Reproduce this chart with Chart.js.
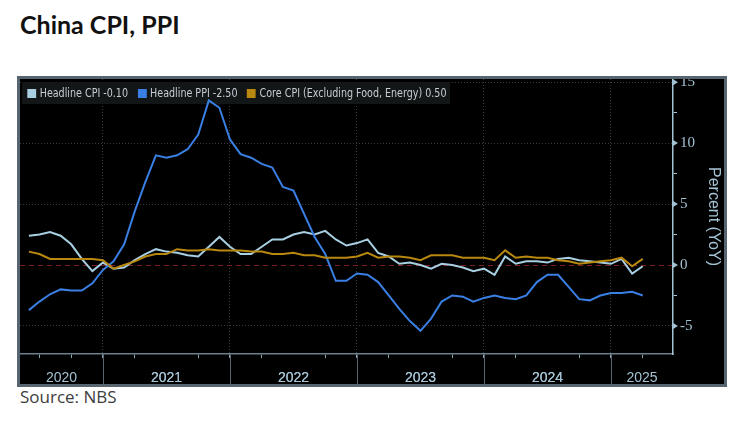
<!DOCTYPE html>
<html>
<head>
<meta charset="utf-8">
<script src="https://cdn.jsdelivr.net/npm/chart.js@4.4.1/dist/chart.umd.min.js"></script>
<style>
  html, body { margin: 0; padding: 0; background: #fff; }
  body { width: 756px; height: 427px; position: relative; overflow: hidden; }
  #titulo { position: absolute; left: 20px; top: 12px; font: 700 25px/25px Lato, sans-serif; color: #111; }
  #caixa { position: absolute; left: 17px; top: 76px; width: 710px; height: 311px; box-sizing: border-box; border: 3px solid #56656f; background: #000; }
  #caixa canvas { position: absolute; left: 0; top: 0; }
  #legenda { position: absolute; left: 2px; top: 3px; height: 22px; padding-left: 6px; display: flex; align-items: center;
             font: 12px "Liberation Sans Narrow", "DejaVu Sans Condensed", sans-serif; color: #c5cdd3; white-space: nowrap;
             transform: scaleX(0.885); transform-origin: 0 0; }
  #legenda .item { display: flex; align-items: center; margin-right: 11px; }
  #legenda .cor { width: 10px; height: 9px; margin-right: 4px; }
  #fonte { position: absolute; left: 20px; top: 388px; font: 17px/17px "Open Sans", sans-serif; color: #3d3d3d; }
</style>
</head>
<body>
<div id="titulo">China CPI, PPI</div>
<div id="caixa">
  <canvas id="grafico" width="704" height="305"></canvas>
  <div id="legenda"></div>
</div>
<div id="fonte">Source: NBS</div>
<script>
// Meses (dado mensal, desenhado no fim do mês)
const meses = [
  '2020-05', '2020-06', '2020-07', '2020-08', '2020-09', '2020-10', '2020-11', '2020-12',
  '2021-01', '2021-02', '2021-03', '2021-04', '2021-05', '2021-06', '2021-07', '2021-08', '2021-09', '2021-10', '2021-11', '2021-12',
  '2022-01', '2022-02', '2022-03', '2022-04', '2022-05', '2022-06', '2022-07', '2022-08', '2022-09', '2022-10', '2022-11', '2022-12',
  '2023-01', '2023-02', '2023-03', '2023-04', '2023-05', '2023-06', '2023-07', '2023-08', '2023-09', '2023-10', '2023-11', '2023-12',
  '2024-01', '2024-02', '2024-03', '2024-04', '2024-05', '2024-06', '2024-07', '2024-08', '2024-09', '2024-10', '2024-11', '2024-12',
  '2025-01', '2025-02', '2025-03'
];

// Séries (% a/a)
const cpiHeadline = [
  2.4, 2.5, 2.7, 2.4, 1.7, 0.5, -0.5, 0.2,
  -0.3, -0.2, 0.4, 0.9, 1.3, 1.1, 1.0, 0.8, 0.7, 1.5, 2.3, 1.5,
  0.9, 0.9, 1.5, 2.1, 2.1, 2.5, 2.7, 2.5, 2.8, 2.1, 1.6, 1.8,
  2.1, 1.0, 0.7, 0.1, 0.2, 0.0, -0.3, 0.1, 0.0, -0.2, -0.5, -0.3,
  -0.8, 0.7, 0.1, 0.3, 0.3, 0.2, 0.5, 0.6, 0.4, 0.3, 0.2, 0.1,
  0.5, -0.7, -0.1
];
const ppiHeadline = [
  -3.7, -3.0, -2.4, -2.0, -2.1, -2.1, -1.5, -0.4,
  0.3, 1.7, 4.4, 6.8, 9.0, 8.8, 9.0, 9.5, 10.7, 13.5, 12.9, 10.3,
  9.1, 8.8, 8.3, 8.0, 6.4, 6.1, 4.2, 2.3, 0.9, -1.3, -1.3, -0.7,
  -0.8, -1.4, -2.5, -3.6, -4.6, -5.4, -4.4, -3.0, -2.5, -2.6, -3.0, -2.7,
  -2.5, -2.7, -2.8, -2.5, -1.4, -0.8, -0.8, -1.8, -2.8, -2.9, -2.5, -2.3,
  -2.3, -2.2, -2.5
];
const cpiCore = [
  1.1, 0.9, 0.5, 0.5, 0.5, 0.5, 0.5, 0.4,
  -0.3, 0.0, 0.3, 0.7, 0.9, 0.9, 1.3, 1.2, 1.2, 1.3, 1.2, 1.2,
  1.2, 1.1, 1.1, 0.9, 0.9, 1.0, 0.8, 0.8, 0.6, 0.6, 0.6, 0.7,
  1.0, 0.6, 0.7, 0.7, 0.6, 0.4, 0.8, 0.8, 0.8, 0.6, 0.6, 0.6,
  0.4, 1.2, 0.6, 0.7, 0.6, 0.6, 0.4, 0.3, 0.1, 0.2, 0.3, 0.4,
  0.6, -0.1, 0.5
];

// Eixos
const anos = ['2020', '2021', '2022', '2023', '2024', '2025'];
const ticksY = [-5, -2.5, 0, 2.5, 5, 7.5, 10, 12.5, 15];

const corEixo = '#a3c2d3';
const xMin = 4.16, xMax = 65.86;
const yMin = -7.3, yMax = 15.26;

// Posição no eixo x: meses desde jan/2020, no fim do mês
function mesParaX(mes) {
    const [ano, m] = mes.split('-').map(Number);
    return (ano - 2020) * 12 + m;
}

function serie(valores) {
    return valores.map((v, i) => ({ x: mesParaX(meses[i]), y: v }));
}

// Centro visível de cada ano (onde vai o rótulo)
const centrosAnos = anos.map(a => {
    const ini = Math.max(xMin, (Number(a) - 2020) * 12);
    const fim = Math.min(xMax, (Number(a) - 2019) * 12);
    return (ini + fim) / 2;
});
const inicioAnos = anos.slice(1).map(a => (Number(a) - 2020) * 12);

function ticksX() {
    const trimestres = [];
    for (let v = 6; v < xMax; v += 3) trimestres.push(v);
    return trimestres.concat(centrosAnos).sort((a, b) => a - b);
}

function ehCentro(v) {
    return centrosAnos.some(c => Math.abs(c - v) < 1e-6);
}

// Legenda
const series = [
    { nome: 'Headline CPI', valores: cpiHeadline, cor: '#a8cfe2' },
    { nome: 'Headline PPI', valores: ppiHeadline, cor: '#3a7fe3' },
    { nome: 'Core CPI (Excluding Food, Energy)', valores: cpiCore, cor: '#b8880f' },
];
document.getElementById('legenda').innerHTML = series
    .map(s => `<div class="item"><div class="cor" style="background:${s.cor}"></div>${s.nome} ${s.valores[s.valores.length - 1].toFixed(2)}</div>`)
    .join('');

const pluginMoldura = {
    id: 'moldura',
    beforeDatasetsDraw(chart) {
        const c = chart.ctx;
        c.save();
        c.fillStyle = '#131617';
        c.fillRect(2, 3, 428, 22);
        c.restore();
    },
    afterDraw(chart) {
        const { ctx: c, scales: { x, y } } = chart;
        c.save();
        // separadores dos anos na faixa do eixo x
        c.strokeStyle = '#56656f';
        c.lineWidth = 1;
        inicioAnos.forEach(v => {
            const px = Math.round(x.getPixelForValue(v)) + 0.5;
            c.beginPath();
            c.moveTo(px, x.top);
            c.lineTo(px, x.bottom);
            c.stroke();
        });
        // marcadores triangulares no eixo y
        c.fillStyle = corEixo;
        ticksY.filter(v => v % 5 === 0).forEach(v => {
            const py = y.getPixelForValue(v);
            c.beginPath();
            c.moveTo(y.left, py - 3);
            c.lineTo(y.left + 5, py);
            c.lineTo(y.left, py + 3);
            c.closePath();
            c.fill();
        });
        c.restore();
    }
};

const ctx = document.getElementById('grafico').getContext('2d');
new Chart(ctx, {
    type: 'line',
    data: {
        datasets: series.map((s, i) => ({
            label: s.nome,
            data: serie(s.valores),
            borderColor: s.cor,
            backgroundColor: s.cor,
            borderWidth: 2,
            pointRadius: 0,
            tension: 0,
            order: 2 - i,
        })),
    },
    options: {
        responsive: false,
        animation: false,
        layout: { padding: 0 },
        plugins: {
            legend: { display: false },
            tooltip: { enabled: false },
        },
        scales: {
            x: {
                type: 'linear',
                min: xMin,
                max: xMax,
                afterBuildTicks: s => { s.ticks = ticksX().map(v => ({ value: v })); },
                afterFit: s => { s.height = 30; s.paddingLeft = 0; s.paddingRight = 0; },
                grid: {
                    color: c => (c.tick && c.tick.value % 12 === 0) ? '#3a3a3a' : 'transparent',
                    lineWidth: 1,
                    tickLength: 4,
                    tickColor: c => (c.tick && !ehCentro(c.tick.value)) ? '#8fa5b3' : 'transparent',
                },
                border: { color: '#6b808e', width: 1.5, dash: c => c.tick ? [1, 2] : [] },
                ticks: {
                    autoSkip: false,
                    maxRotation: 0,
                    padding: 12,
                    color: corEixo,
                    font: { family: 'Liberation Sans', size: 14 },
                    callback: v => {
                        const k = centrosAnos.findIndex(c => Math.abs(c - v) < 1e-6);
                        return k >= 0 ? anos[k] : '';
                    },
                },
            },
            y: {
                position: 'right',
                min: yMin,
                max: yMax,
                afterBuildTicks: s => { s.ticks = ticksY.map(v => ({ value: v })); },
                afterFit: s => { s.width = 51; s.paddingTop = 0; s.paddingBottom = 0; },
                grid: {
                    color: c => {
                        if (!c.tick) return 'transparent';
                        const v = c.tick.value;
                        if (v === 0) return '#7a2020';
                        return v % 5 === 0 ? '#3a3a3a' : 'transparent';
                    },
                    tickLength: 4,
                    tickColor: c => (c.tick && c.tick.value % 5 !== 0) ? corEixo : 'transparent',
                },
                border: {
                    color: corEixo,
                    width: 1.5,
                    dash: c => !c.tick ? [] : (c.tick.value === 0 ? [5, 4] : [1, 2]),
                },
                ticks: {
                    padding: 3,
                    color: corEixo,
                    font: { family: 'Liberation Sans Narrow', size: 15 },
                    callback: v => v % 5 === 0 ? String(v) : '',
                },
                title: {
                    display: true,
                    text: 'Percent (YoY)',
                    color: corEixo,
                    font: { family: 'Liberation Sans', size: 16 },
                    padding: { top: 1, bottom: 0 },
                },
            },
        },
    },
    plugins: [pluginMoldura],
});
</script>
</body>
</html>
